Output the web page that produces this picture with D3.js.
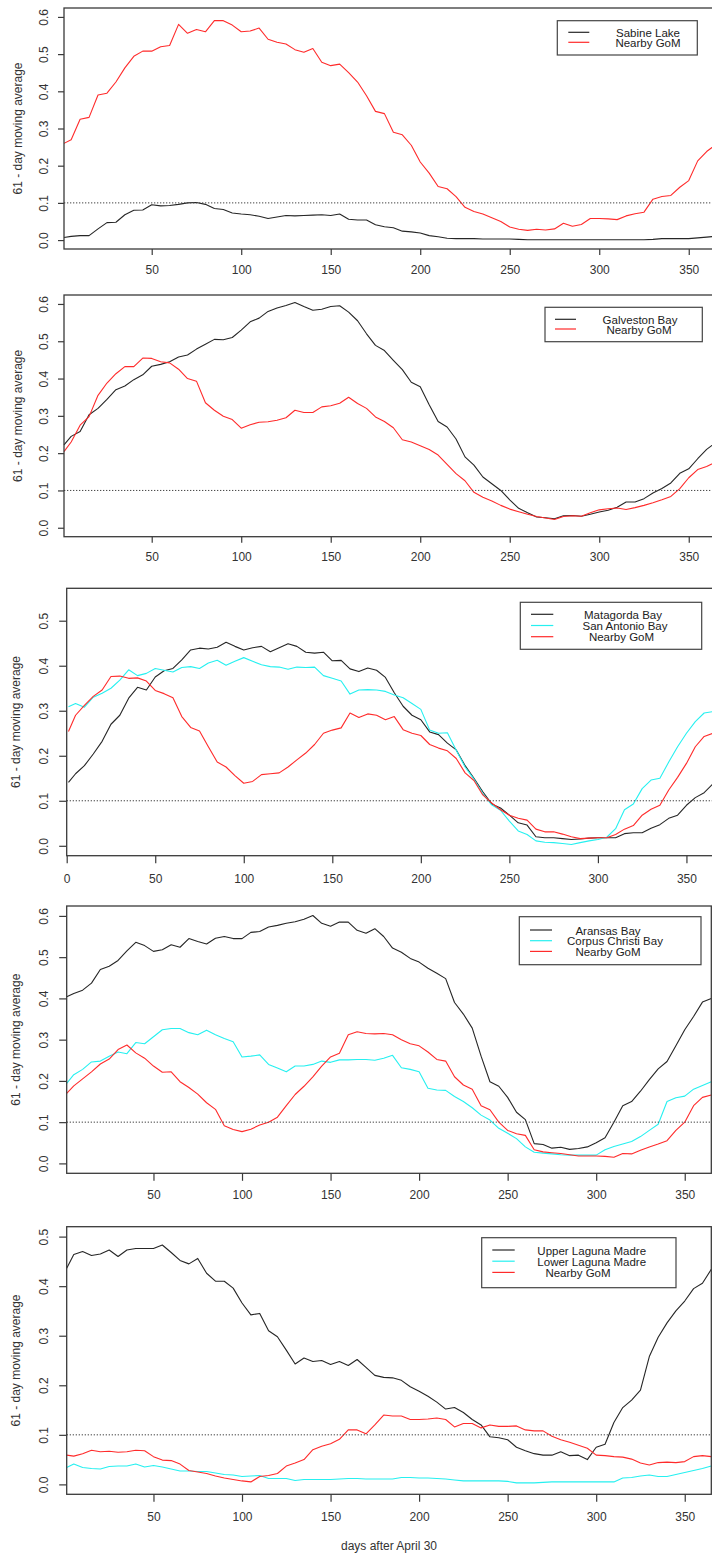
<!DOCTYPE html>
<html>
<head>
<meta charset="utf-8">
<script src="https://cdn.jsdelivr.net/npm/d3@7"></script>
<style>
  html, body { margin: 0; padding: 0; background: #ffffff; }
  svg { display: block; font-family: "Liberation Sans", Arial, sans-serif; }
</style>
</head>
<body>
<svg id="chart" width="712" height="1556"></svg>
<script>
// ---- data: 61-day moving averages, sampled every 5 days after April 30 ----
const days = [
  1, 5, 10, 15, 20, 25, 30, 35, 40, 45,
  50, 55, 60, 65, 70, 75, 80, 85, 90, 95,
  100, 105, 110, 115, 120, 125, 130, 135, 140, 145,
  150, 155, 160, 165, 170, 175, 180, 185, 190, 195,
  200, 205, 210, 215, 220, 225, 230, 235, 240, 245,
  250, 255, 260, 265, 270, 275, 280, 285, 290, 295,
  300, 305, 310, 315, 320, 325, 330, 335, 340, 345,
  350, 355, 360, 365
];

// Panel 1
const sabineLake = [
  0.007, 0.010, 0.012, 0.012, 0.030, 0.047, 0.048, 0.068, 0.080, 0.081,
  0.095, 0.092, 0.093, 0.096, 0.100, 0.101, 0.096, 0.085, 0.082, 0.073,
  0.070, 0.068, 0.064, 0.058, 0.062, 0.066, 0.065, 0.066, 0.067, 0.068,
  0.066, 0.070, 0.056, 0.054, 0.054, 0.041, 0.036, 0.033, 0.024, 0.022,
  0.019, 0.012, 0.009, 0.005, 0.004, 0.004, 0.004, 0.003, 0.003, 0.003,
  0.003, 0.002, 0.001, 0.001, 0.001, 0.001, 0.001, 0.001, 0.001, 0.001,
  0.001, 0.001, 0.001, 0.001, 0.001, 0.001, 0.002, 0.004, 0.004, 0.004,
  0.004, 0.006, 0.008, 0.010
];
const gomSabine = [
  0.260, 0.270, 0.325, 0.330, 0.390, 0.395, 0.425, 0.463, 0.494, 0.508,
  0.508, 0.520, 0.523, 0.580, 0.556, 0.566, 0.560, 0.590, 0.590, 0.578,
  0.560, 0.562, 0.570, 0.540, 0.532, 0.527, 0.512, 0.505, 0.515, 0.478,
  0.469, 0.473, 0.450, 0.425, 0.388, 0.346, 0.340, 0.290, 0.283, 0.255,
  0.210, 0.180, 0.144, 0.138, 0.117, 0.088, 0.077, 0.070, 0.060, 0.050,
  0.035, 0.029, 0.026, 0.029, 0.027, 0.030, 0.045, 0.037, 0.042, 0.058,
  0.058, 0.057, 0.055, 0.065, 0.071, 0.075, 0.110, 0.117, 0.120, 0.142,
  0.160, 0.213, 0.238, 0.256
];

// Panel 2
const galvestonBay = [
  0.222, 0.245, 0.258, 0.303, 0.320, 0.344, 0.370, 0.380, 0.397, 0.410,
  0.433, 0.438, 0.445, 0.458, 0.463, 0.479, 0.492, 0.505, 0.504, 0.510,
  0.530, 0.552, 0.562, 0.580, 0.589, 0.596, 0.604, 0.593, 0.583, 0.586,
  0.593, 0.595, 0.578, 0.555, 0.520, 0.489, 0.475, 0.449, 0.424, 0.390,
  0.378, 0.330, 0.285, 0.270, 0.238, 0.190, 0.168, 0.136, 0.118, 0.100,
  0.075, 0.052, 0.040, 0.029, 0.027, 0.024, 0.032, 0.033, 0.031, 0.036,
  0.042, 0.047, 0.055, 0.069, 0.069, 0.078, 0.093, 0.105, 0.120, 0.146,
  0.158, 0.185, 0.210, 0.228
];
const gomGalveston = [
  0.204, 0.230, 0.275, 0.298, 0.355, 0.388, 0.413, 0.432, 0.432, 0.455,
  0.454, 0.445, 0.442, 0.425, 0.400, 0.393, 0.335, 0.315, 0.299, 0.290,
  0.267, 0.276, 0.283, 0.284, 0.288, 0.295, 0.315, 0.309, 0.309, 0.324,
  0.327, 0.334, 0.350, 0.333, 0.320, 0.297, 0.285, 0.268, 0.236, 0.230,
  0.220, 0.210, 0.195, 0.170, 0.145, 0.126, 0.095, 0.082, 0.072, 0.060,
  0.050, 0.043, 0.036, 0.030, 0.026, 0.022, 0.030, 0.032, 0.031, 0.040,
  0.048, 0.051, 0.053, 0.049, 0.054, 0.060, 0.067, 0.075, 0.084, 0.105,
  0.134, 0.156, 0.164, 0.176
];

// Panel 3
const matagordaBay = [
  0.141, 0.160, 0.178, 0.204, 0.232, 0.270, 0.290, 0.328, 0.352, 0.346,
  0.375, 0.389, 0.394, 0.413, 0.435, 0.439, 0.437, 0.441, 0.452, 0.443,
  0.435, 0.440, 0.443, 0.431, 0.440, 0.449, 0.443, 0.430, 0.428, 0.430,
  0.411, 0.412, 0.393, 0.387, 0.395, 0.390, 0.374, 0.340, 0.310, 0.290,
  0.280, 0.253, 0.247, 0.228, 0.213, 0.178, 0.150, 0.120, 0.093, 0.084,
  0.068, 0.051, 0.046, 0.020, 0.018, 0.018, 0.016, 0.014, 0.015, 0.017,
  0.018, 0.018, 0.018, 0.027, 0.029, 0.029, 0.039, 0.047, 0.061, 0.068,
  0.090, 0.107, 0.118, 0.138
];
const sanAntonioBay = [
  0.309, 0.316, 0.308, 0.330, 0.339, 0.350, 0.368, 0.391, 0.378, 0.383,
  0.394, 0.390, 0.386, 0.396, 0.398, 0.394, 0.406, 0.412, 0.401, 0.410,
  0.418, 0.410, 0.402, 0.398, 0.397, 0.392, 0.397, 0.396, 0.397, 0.378,
  0.372, 0.366, 0.337, 0.346, 0.347, 0.346, 0.343, 0.335, 0.329, 0.316,
  0.303, 0.257, 0.250, 0.251, 0.212, 0.175, 0.148, 0.116, 0.091, 0.079,
  0.055, 0.033, 0.025, 0.011, 0.008, 0.007, 0.005, 0.003, 0.007, 0.011,
  0.014, 0.019, 0.038, 0.080, 0.093, 0.127, 0.146, 0.150, 0.186, 0.220,
  0.250, 0.276, 0.295, 0.298
];
const gomMatagorda = [
  0.254, 0.290, 0.312, 0.332, 0.346, 0.376, 0.377, 0.372, 0.373, 0.366,
  0.345, 0.338, 0.329, 0.287, 0.263, 0.255, 0.220, 0.186, 0.175, 0.156,
  0.139, 0.143, 0.158, 0.160, 0.162, 0.175, 0.191, 0.206, 0.225, 0.250,
  0.257, 0.262, 0.295, 0.285, 0.293, 0.290, 0.280, 0.287, 0.258, 0.250,
  0.245, 0.225, 0.217, 0.211, 0.194, 0.162, 0.145, 0.113, 0.095, 0.080,
  0.068, 0.061, 0.057, 0.037, 0.031, 0.031, 0.026, 0.020, 0.016, 0.017,
  0.018, 0.018, 0.025, 0.037, 0.045, 0.068, 0.081, 0.090, 0.124, 0.152,
  0.183, 0.220, 0.243, 0.250
];

// Panel 4
const aransasBay = [
  0.404, 0.412, 0.420, 0.437, 0.470, 0.478, 0.492, 0.515, 0.536, 0.528,
  0.514, 0.518, 0.530, 0.524, 0.545, 0.538, 0.532, 0.546, 0.550, 0.545,
  0.545, 0.560, 0.562, 0.573, 0.577, 0.582, 0.586, 0.592, 0.601, 0.582,
  0.575, 0.585, 0.585, 0.565, 0.558, 0.569, 0.550, 0.522, 0.512, 0.497,
  0.488, 0.473, 0.461, 0.448, 0.390, 0.362, 0.328, 0.260, 0.198, 0.187,
  0.160, 0.124, 0.106, 0.048, 0.046, 0.037, 0.039, 0.034, 0.036, 0.040,
  0.050, 0.062, 0.100, 0.140, 0.150, 0.175, 0.203, 0.229, 0.247, 0.285,
  0.324, 0.356, 0.391, 0.400
];
const corpusChristiBay = [
  0.194, 0.215, 0.228, 0.246, 0.248, 0.260, 0.270, 0.266, 0.293, 0.290,
  0.307, 0.324, 0.327, 0.327, 0.317, 0.312, 0.323, 0.312, 0.303, 0.295,
  0.258, 0.260, 0.263, 0.240, 0.231, 0.222, 0.236, 0.236, 0.240, 0.248,
  0.245, 0.251, 0.251, 0.252, 0.252, 0.250, 0.255, 0.262, 0.232, 0.228,
  0.222, 0.182, 0.178, 0.177, 0.162, 0.150, 0.135, 0.117, 0.105, 0.085,
  0.073, 0.060, 0.040, 0.027, 0.025, 0.023, 0.021, 0.020, 0.020, 0.020,
  0.020, 0.033, 0.041, 0.047, 0.053, 0.065, 0.080, 0.095, 0.150, 0.159,
  0.163, 0.180, 0.189, 0.198
];
const gomAransas = [
  0.170, 0.188, 0.205, 0.222, 0.241, 0.253, 0.276, 0.287, 0.268, 0.255,
  0.236, 0.221, 0.222, 0.198, 0.184, 0.168, 0.147, 0.131, 0.091, 0.082,
  0.077, 0.083, 0.093, 0.100, 0.112, 0.140, 0.167, 0.187, 0.210, 0.236,
  0.258, 0.267, 0.312, 0.319, 0.315, 0.314, 0.315, 0.312, 0.300, 0.290,
  0.285, 0.270, 0.252, 0.248, 0.210, 0.190, 0.180, 0.140, 0.130, 0.100,
  0.080, 0.072, 0.068, 0.033, 0.028, 0.026, 0.024, 0.021, 0.018, 0.018,
  0.018, 0.017, 0.015, 0.024, 0.023, 0.032, 0.040, 0.047, 0.055, 0.080,
  0.100, 0.140, 0.160, 0.166
];

// Panel 5
const upperLagunaMadre = [
  0.436, 0.464, 0.470, 0.462, 0.465, 0.473, 0.460, 0.473, 0.476, 0.476,
  0.476, 0.483, 0.468, 0.452, 0.445, 0.456, 0.426, 0.410, 0.410, 0.396,
  0.366, 0.342, 0.345, 0.310, 0.298, 0.271, 0.243, 0.255, 0.248, 0.250,
  0.242, 0.248, 0.240, 0.252, 0.236, 0.220, 0.216, 0.215, 0.210, 0.197,
  0.188, 0.178, 0.166, 0.152, 0.155, 0.145, 0.131, 0.120, 0.096, 0.094,
  0.090, 0.075, 0.068, 0.062, 0.059, 0.059, 0.066, 0.058, 0.059, 0.050,
  0.075, 0.081, 0.125, 0.155, 0.170, 0.190, 0.258, 0.297, 0.326, 0.350,
  0.370, 0.395, 0.406, 0.434
];
const lowerLagunaMadre = [
  0.034, 0.041, 0.034, 0.032, 0.031, 0.036, 0.037, 0.037, 0.041, 0.035,
  0.038, 0.035, 0.031, 0.027, 0.027, 0.026, 0.026, 0.023, 0.020, 0.019,
  0.016, 0.017, 0.018, 0.012, 0.012, 0.012, 0.008, 0.010, 0.010, 0.010,
  0.010, 0.011, 0.012, 0.012, 0.011, 0.011, 0.011, 0.011, 0.014, 0.014,
  0.013, 0.013, 0.012, 0.011, 0.009, 0.007, 0.007, 0.007, 0.007, 0.007,
  0.006, 0.003, 0.003, 0.003, 0.004, 0.005, 0.005, 0.005, 0.005, 0.005,
  0.005, 0.005, 0.005, 0.013, 0.014, 0.017, 0.019, 0.016, 0.016, 0.020,
  0.024, 0.028, 0.032, 0.037
];
const gomLagunaMadre = [
  0.059, 0.057, 0.062, 0.069, 0.066, 0.067, 0.065, 0.066, 0.069, 0.068,
  0.056, 0.049, 0.048, 0.041, 0.028, 0.025, 0.022, 0.017, 0.013, 0.010,
  0.007, 0.005, 0.016, 0.018, 0.022, 0.037, 0.043, 0.050, 0.070, 0.077,
  0.082, 0.091, 0.110, 0.110, 0.102, 0.120, 0.140, 0.138, 0.138, 0.131,
  0.131, 0.132, 0.134, 0.131, 0.116, 0.123, 0.123, 0.114, 0.120, 0.117,
  0.117, 0.118, 0.110, 0.108, 0.108, 0.097, 0.090, 0.085, 0.079, 0.073,
  0.059, 0.058, 0.056, 0.055, 0.051, 0.043, 0.039, 0.044, 0.045, 0.044,
  0.046, 0.056, 0.058, 0.056
];

// ---- axis ticks ----
const xTicksFrom50 = [50, 100, 150, 200, 250, 300, 350];
const xTicksFrom0 = [0, 50, 100, 150, 200, 250, 300, 350];
const yTicksTo06 = [0, 0.1, 0.2, 0.3, 0.4, 0.5, 0.6];
const yTicksTo05 = [0, 0.1, 0.2, 0.3, 0.4, 0.5];
const threshold = 0.1;

const yTitle = "61 - day moving average";
const xTitle = "days after April 30";

// ---- styles ----
const BLACK = "#262626", RED = "#ff2b2b", CYAN = "#26f0f0";
const AXIS = "#3a3a3a";

// ---- panel layout ----
const panels = [
  {
    box: { left: 64, top: 8, right: 715.6, bottom: 249 },
    xDomain: [1, 365], yLimits: [0, 0.6], xTicks: xTicksFrom50, yTicks: yTicksTo06,
    series: [
      { label: "Sabine Lake", values: sabineLake, color: BLACK },
      { label: "Nearby GoM", values: gomSabine, color: RED }
    ],
    legend: { x: 557.3, y: 20.7, w: 140, h: 34.3, lineX: [568.3, 589.3], rowY: 32.3, rowStep: 10, textX: [648, 648] },
    tick: 6, yLabelGap: 16.4, yTitleX: 21.5, xLabelGap: 24.5
  },
  {
    box: { left: 64, top: 295, right: 715.6, bottom: 536.7 },
    xDomain: [1, 365], yLimits: [0, 0.6], xTicks: xTicksFrom50, yTicks: yTicksTo06,
    series: [
      { label: "Galveston Bay", values: galvestonBay, color: BLACK },
      { label: "Nearby GoM", values: gomGalveston, color: RED }
    ],
    legend: { x: 545, y: 307.3, w: 157.3, h: 34.4, lineX: [555, 576], rowY: 319.3, rowStep: 9.7, textX: [640, 639] },
    tick: 6, yLabelGap: 16.4, yTitleX: 21.5, xLabelGap: 24.3
  },
  {
    box: { left: 66.7, top: 588.3, right: 713, bottom: 855.7 },
    xDomain: [0, 365], yLimits: [0, 0.55], xTicks: xTicksFrom0, yTicks: yTicksTo05,
    series: [
      { label: "Matagorda Bay", values: matagordaBay, color: BLACK },
      { label: "San Antonio Bay", values: sanAntonioBay, color: CYAN },
      { label: "Nearby GoM", values: gomMatagorda, color: RED }
    ],
    legend: { x: 520.3, y: 602.3, w: 181.4, h: 47, lineX: [531, 553.3], rowY: 614.3, rowStep: 11.2, textX: [623, 625, 621.5] },
    tick: 7.5, yLabelGap: 19.1, yTitleX: 19.5, xLabelGap: 26.9
  },
  {
    box: { left: 66.7, top: 906, right: 711.3, bottom: 1173.3 },
    xDomain: [1, 365], yLimits: [0, 0.6], xTicks: xTicksFrom50, yTicks: yTicksTo06,
    series: [
      { label: "Aransas Bay", values: aransasBay, color: BLACK },
      { label: "Corpus Christi Bay", values: corpusChristiBay, color: CYAN },
      { label: "Nearby GoM", values: gomAransas, color: RED }
    ],
    legend: { x: 519.3, y: 916.7, w: 181.7, h: 48, lineX: [530, 552], rowY: 930, rowStep: 10.7, textX: [608, 615, 608] },
    tick: 7.5, yLabelGap: 19.1, yTitleX: 19.5, xLabelGap: 26
  },
  {
    box: { left: 66.7, top: 1226.7, right: 711.3, bottom: 1494.3 },
    xDomain: [1, 365], yLimits: [0, 0.5], xTicks: xTicksFrom50, yTicks: yTicksTo05,
    series: [
      { label: "Upper Laguna Madre", values: upperLagunaMadre, color: BLACK },
      { label: "Lower Laguna Madre", values: lowerLagunaMadre, color: CYAN },
      { label: "Nearby GoM", values: gomLagunaMadre, color: RED }
    ],
    legend: { x: 481.7, y: 1237.7, w: 194.3, h: 50, lineX: [492.3, 514.7], rowY: 1250, rowStep: 11.2, textX: [591.7, 591.7, 578] },
    tick: 7.5, yLabelGap: 19.1, yTitleX: 19.5, xLabelGap: 26.7
  }
];

const svg = d3.select("#chart");
const fmt = d3.format(".1f");

panels.forEach(p => {
  const b = p.box;
  const pad = (p.yLimits[1] - p.yLimits[0]) * 0.04;
  const x = d3.scaleLinear().domain(p.xDomain).range([b.left, b.right]);
  const y = d3.scaleLinear().domain([p.yLimits[0] - pad, p.yLimits[1] + pad]).range([b.bottom, b.top]);
  const g = svg.append("g");

  // series lines
  const line = d3.line()
    .x((d, i) => x(days[i]))
    .y(d => y(d));
  p.series.forEach(s => {
    g.append("path")
      .datum(s.values)
      .attr("d", line)
      .attr("fill", "none")
      .attr("stroke", s.color)
      .attr("stroke-width", 1.1)
      .attr("stroke-linejoin", "round");
  });

  // dotted reference line
  g.append("line")
    .attr("x1", b.left).attr("x2", b.right)
    .attr("y1", y(threshold)).attr("y2", y(threshold))
    .attr("stroke", "#444").attr("stroke-width", 1)
    .attr("stroke-dasharray", "1.3,1.7");

  // plot frame
  g.append("rect")
    .attr("x", b.left).attr("y", b.top)
    .attr("width", b.right - b.left).attr("height", b.bottom - b.top)
    .attr("fill", "none").attr("stroke", AXIS).attr("stroke-width", 1.3);

  // x axis
  const xa = g.append("g")
    .attr("transform", `translate(0,${b.bottom})`)
    .call(d3.axisBottom(x).tickValues(p.xTicks).tickSize(p.tick).tickSizeOuter(0).tickFormat(d3.format("d")));
  xa.select(".domain").remove();
  xa.selectAll(".tick line").attr("stroke", AXIS).attr("stroke-width", 1.2);
  xa.selectAll(".tick text")
    .attr("y", p.xLabelGap).attr("dy", null)
    .attr("fill", "#333").attr("font-size", 12)
    .attr("font-family", "Liberation Sans, Arial, sans-serif");

  // y axis
  const ya = g.append("g")
    .attr("transform", `translate(${b.left},0)`)
    .call(d3.axisLeft(y).tickValues(p.yTicks).tickSize(p.tick).tickSizeOuter(0).tickFormat(fmt));
  ya.select(".domain").remove();
  ya.selectAll(".tick line").attr("stroke", AXIS).attr("stroke-width", 1.2);
  ya.selectAll(".tick text")
    .attr("x", null).attr("dy", null)
    .attr("transform", `translate(${-p.yLabelGap},0) rotate(-90)`)
    .attr("text-anchor", "middle")
    .attr("fill", "#333").attr("font-size", 12)
    .attr("font-family", "Liberation Sans, Arial, sans-serif");

  // y title
  g.append("text")
    .attr("transform", `translate(${p.yTitleX},${(b.top + b.bottom) / 2}) rotate(-90)`)
    .attr("text-anchor", "middle")
    .attr("fill", "#333").attr("font-size", 12)
    .text(yTitle);

  // legend
  const L = p.legend;
  const lg = g.append("g");
  lg.append("rect")
    .attr("x", L.x).attr("y", L.y).attr("width", L.w).attr("height", L.h)
    .attr("fill", "#fff").attr("stroke", "#444").attr("stroke-width", 1.2);
  p.series.forEach((s, i) => {
    const ry = L.rowY + i * L.rowStep;
    lg.append("line")
      .attr("x1", L.lineX[0]).attr("x2", L.lineX[1])
      .attr("y1", ry).attr("y2", ry)
      .attr("stroke", s.color).attr("stroke-width", 1.2);
    lg.append("text")
      .attr("x", L.textX[i]).attr("y", ry + 4.6)
      .attr("text-anchor", "middle")
      .attr("fill", "#222").attr("font-size", 11.5)
      .text(s.label);
  });
});

// shared x title under the bottom panel
const last = panels[panels.length - 1].box;
svg.append("text")
  .attr("x", (last.left + last.right) / 2)
  .attr("y", 1549.5)
  .attr("text-anchor", "middle")
  .attr("fill", "#333").attr("font-size", 12)
  .text(xTitle);
</script>
</body>
</html>
